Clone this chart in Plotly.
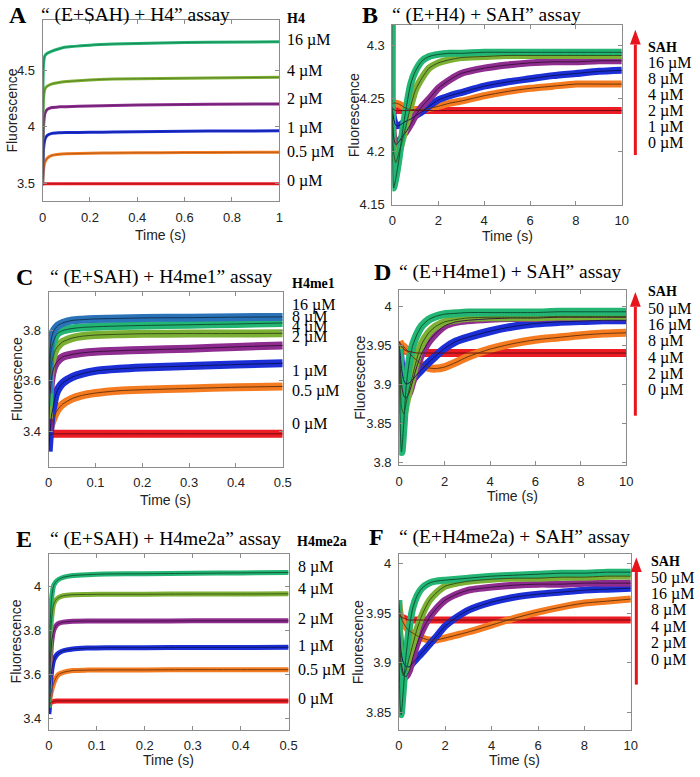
import plotly.graph_objects as go

W, H = 700, 777

# ---------------- data ----------------
# Panel A  "(E+SAH) + H4"   time in s
tA = [0, 0.004, 0.01, 0.02, 0.04, 0.07, 0.1, 0.2, 0.3, 0.5, 0.7, 1.0]
A_16 = [3.50, 4.55, 4.63, 4.65, 4.67, 4.69, 4.705, 4.722, 4.732, 4.742, 4.748, 4.752]
A_4 = [3.50, 4.25, 4.335, 4.36, 4.38, 4.393, 4.40, 4.415, 4.422, 4.428, 4.433, 4.438]
A_2 = [3.50, 4.00, 4.12, 4.155, 4.172, 4.177, 4.179, 4.184, 4.19, 4.196, 4.20, 4.203]
A_1 = [3.50, 3.80, 3.89, 3.925, 3.943, 3.948, 3.95, 3.952, 3.955, 3.96, 3.963, 3.965]
A_05 = [3.50, 3.62, 3.69, 3.724, 3.748, 3.758, 3.762, 3.767, 3.77, 3.772, 3.774, 3.776]
A_0 = [3.49, 3.495, 3.497, 3.498, 3.498, 3.497, 3.498, 3.497, 3.497, 3.497, 3.497, 3.497]
A_labels = ["16 µM", "4 µM", "2 µM", "1 µM", "0.5 µM", "0 µM"]

# Panel B  "(E+H4) + SAH"
tB = [0, 0.05, 0.15, 0.3, 0.45, 0.6, 0.8, 1.0, 1.3, 1.6, 2.0, 2.5, 3, 4, 5, 6, 7, 8, 9, 10]
B_16 = [4.32, 4.166, 4.175, 4.195, 4.22, 4.241, 4.264, 4.276, 4.286, 4.29, 4.292, 4.293, 4.293, 4.294, 4.294, 4.294, 4.294, 4.294, 4.294, 4.294]
B_8 = [4.24, 4.20, 4.19, 4.20, 4.212, 4.225, 4.243, 4.258, 4.27, 4.279, 4.284, 4.287, 4.289, 4.29, 4.291, 4.291, 4.291, 4.291, 4.291, 4.291]
B_4 = [4.235, 4.215, 4.207, 4.21, 4.215, 4.219, 4.226, 4.234, 4.243, 4.25, 4.26, 4.268, 4.274, 4.279, 4.282, 4.284, 4.285, 4.285, 4.286, 4.286]
B_2 = [4.24, 4.232, 4.225, 4.225, 4.227, 4.229, 4.231, 4.234, 4.238, 4.243, 4.249, 4.253, 4.256, 4.262, 4.266, 4.269, 4.272, 4.274, 4.276, 4.277]
B_1 = [4.245, 4.246, 4.246, 4.245, 4.243, 4.241, 4.24, 4.24, 4.24, 4.241, 4.243, 4.246, 4.248, 4.253, 4.257, 4.26, 4.262, 4.264, 4.264, 4.264]
B_0 = [4.242, 4.24, 4.239, 4.239, 4.239, 4.239, 4.239, 4.239, 4.239, 4.239, 4.239, 4.239, 4.239, 4.239, 4.239, 4.239, 4.239, 4.239, 4.239, 4.239]
B_labels = ["16 µM", "8 µM", "4 µM", "2 µM", "1 µM", "0 µM"]

# Panel C  "(E+SAH) + H4me1"
tC = [0, 0.003, 0.006, 0.01, 0.015, 0.02, 0.03, 0.05, 0.07, 0.1, 0.15, 0.2, 0.3, 0.4, 0.5]
C_16 = [3.55, 3.72, 3.77, 3.795, 3.81, 3.82, 3.83, 3.84, 3.843, 3.846, 3.848, 3.85, 3.851, 3.853, 3.854]
C_8 = [3.50, 3.68, 3.73, 3.755, 3.778, 3.79, 3.80, 3.808, 3.812, 3.815, 3.818, 3.82, 3.823, 3.826, 3.83]
C_4 = [3.45, 3.62, 3.67, 3.70, 3.725, 3.738, 3.755, 3.77, 3.777, 3.782, 3.785, 3.787, 3.788, 3.788, 3.789]
C_2 = [3.40, 3.55, 3.61, 3.646, 3.668, 3.68, 3.695, 3.705, 3.711, 3.716, 3.72, 3.723, 3.728, 3.735, 3.741]
C_1 = [3.32, 3.40, 3.46, 3.50, 3.545, 3.567, 3.592, 3.615, 3.628, 3.64, 3.648, 3.653, 3.659, 3.665, 3.67]
C_05 = [3.383, 3.41, 3.43, 3.45, 3.472, 3.488, 3.508, 3.53, 3.542, 3.552, 3.561, 3.565, 3.57, 3.575, 3.578]
C_0 = [3.38, 3.385, 3.388, 3.39, 3.39, 3.39, 3.39, 3.39, 3.39, 3.39, 3.39, 3.39, 3.39, 3.39, 3.39]
C_labels = ["16 µM", "8 µM", "4 µM", "2 µM", "1 µM", "0.5 µM", "0 µM"]

# Panel D  "(E+H4me1) + SAH"
tD = [0, 0.05, 0.1, 0.2, 0.3, 0.45, 0.6, 0.8, 1.0, 1.3, 1.6, 2.0, 2.5, 3, 4, 5, 6, 7, 8, 9, 10]
D_50 = [3.945, 3.84, 3.813, 3.85, 3.895, 3.93, 3.95, 3.965, 3.975, 3.983, 3.987, 3.99, 3.991, 3.992, 3.992, 3.992, 3.992, 3.993, 3.993, 3.993, 3.993]
D_16 = [3.95, 3.90, 3.87, 3.862, 3.875, 3.895, 3.912, 3.935, 3.952, 3.966, 3.974, 3.98, 3.983, 3.985, 3.986, 3.986, 3.986, 3.987, 3.987, 3.987, 3.987]
D_8 = [3.95, 3.92, 3.90, 3.885, 3.882, 3.89, 3.905, 3.925, 3.94, 3.955, 3.965, 3.975, 3.98, 3.982, 3.984, 3.985, 3.985, 3.986, 3.986, 3.986, 3.986]
D_4 = [3.95, 3.935, 3.92, 3.905, 3.90, 3.902, 3.906, 3.913, 3.919, 3.928, 3.936, 3.946, 3.955, 3.96, 3.968, 3.974, 3.978, 3.98, 3.981, 3.982, 3.982]
D_2 = [3.955, 3.952, 3.95, 3.948, 3.945, 3.94, 3.935, 3.93, 3.925, 3.921, 3.92, 3.922, 3.928, 3.935, 3.945, 3.952, 3.957, 3.96, 3.963, 3.965, 3.966]
D_0 = [3.955, 3.95, 3.948, 3.945, 3.943, 3.942, 3.941, 3.94, 3.94, 3.94, 3.94, 3.94, 3.94, 3.94, 3.94, 3.94, 3.94, 3.94, 3.94, 3.94, 3.94]
D_labels = ["50 µM", "16 µM", "8 µM", "4 µM", "2 µM", "0 µM"]

# Panel E  "(E+SAH) + H4me2a"
tE = [0, 0.003, 0.006, 0.01, 0.015, 0.02, 0.03, 0.05, 0.08, 0.12, 0.2, 0.3, 0.4, 0.5]
E_8 = [3.45, 3.85, 3.95, 4.005, 4.022, 4.032, 4.042, 4.05, 4.054, 4.057, 4.058, 4.06, 4.062, 4.064]
E_4 = [3.45, 3.75, 3.86, 3.92, 3.94, 3.95, 3.958, 3.963, 3.964, 3.965, 3.965, 3.966, 3.966, 3.967]
E_2 = [3.45, 3.65, 3.75, 3.80, 3.822, 3.832, 3.838, 3.842, 3.843, 3.843, 3.843, 3.844, 3.844, 3.844]
E_1 = [3.42, 3.55, 3.62, 3.665, 3.685, 3.697, 3.708, 3.716, 3.72, 3.722, 3.722, 3.723, 3.723, 3.724]
E_05 = [3.45, 3.50, 3.53, 3.56, 3.585, 3.60, 3.61, 3.618, 3.62, 3.621, 3.621, 3.622, 3.622, 3.622]
E_0 = [3.43, 3.47, 3.475, 3.478, 3.48, 3.48, 3.48, 3.48, 3.48, 3.48, 3.48, 3.48, 3.48, 3.48]
E_labels = ["8 µM", "4 µM", "2 µM", "1 µM", "0.5 µM", "0 µM"]

# Panel F  "(E+H4me2a) + SAH"
tF = [0, 0.05, 0.1, 0.2, 0.3, 0.45, 0.6, 0.8, 1.0, 1.3, 1.6, 2.0, 2.5, 3, 4, 5, 6, 7, 8, 9, 10]
F_50 = [3.963, 3.86, 3.848, 3.875, 3.905, 3.935, 3.955, 3.968, 3.975, 3.98, 3.982, 3.983, 3.984, 3.985, 3.987, 3.988, 3.989, 3.99, 3.99, 3.991, 3.991]
F_16 = [3.955, 3.91, 3.895, 3.887, 3.892, 3.905, 3.918, 3.935, 3.948, 3.962, 3.97, 3.977, 3.98, 3.982, 3.984, 3.985, 3.985, 3.986, 3.986, 3.987, 3.987]
F_8 = [3.95, 3.915, 3.90, 3.889, 3.886, 3.892, 3.905, 3.92, 3.932, 3.945, 3.954, 3.963, 3.969, 3.973, 3.976, 3.978, 3.979, 3.979, 3.98, 3.98, 3.98]
F_4 = [3.945, 3.925, 3.91, 3.90, 3.897, 3.896, 3.90, 3.905, 3.91, 3.918, 3.926, 3.937, 3.946, 3.953, 3.961, 3.966, 3.969, 3.971, 3.973, 3.974, 3.975]
F_2 = [3.96, 3.95, 3.945, 3.94, 3.936, 3.932, 3.93, 3.927, 3.925, 3.923, 3.923, 3.925, 3.928, 3.931, 3.938, 3.945, 3.951, 3.956, 3.96, 3.962, 3.964]
F_0 = [3.95, 3.948, 3.946, 3.945, 3.944, 3.943, 3.943, 3.943, 3.943, 3.943, 3.943, 3.943, 3.943, 3.943, 3.943, 3.943, 3.943, 3.943, 3.943, 3.943, 3.943]
F_labels = ["50 µM", "16 µM", "8 µM", "4 µM", "2 µM", "0 µM"]

# ---------------- styling ----------------
RED = "#ec1c24"
ORANGE = "#f47b20"
BLUE = "#1c2fd6"
PURPLE = "#8e2c90"
OLIVE = "#7cb034"
GREEN = "#22b573"
STEEL = "#2b73b8"
SIX = [GREEN, OLIVE, PURPLE, BLUE, ORANGE, RED]
SEVEN = [STEEL, GREEN, OLIVE, PURPLE, BLUE, ORANGE, RED]

SERIF = "Liberation Serif, Times New Roman, serif"
SANS = "Liberation Sans, Arial, sans-serif"
AXC = "#8c8c8c"


def dark(hexc, f=0.5):
    r, g, b = int(hexc[1:3], 16), int(hexc[3:5], 16), int(hexc[5:7], 16)
    return "#%02x%02x%02x" % (int(r * f), int(g * f), int(b * f))


def px(x):
    return x / W


def py(y):
    return 1 - y / H


panels = [
    dict(t=tA, ys=[A_16, A_4, A_2, A_1, A_05, A_0], cols=SIX, bw=3, fitf=0.75,
         dx=(39.3, 280.5), dy=(20.7, 203), xr=[0, 1], yr=[3.346, 4.94],
         xt=[0, 0.2, 0.4, 0.6, 0.8, 1], yt=[3.5, 4, 4.5],
         letter="A", lx=3, ly=15, title="\u201c (E+SAH) + H4\u201d assay", tx=36, ty=15,
         head="H4", hx=286.7, hy=18.3, labels=A_labels, labx=286.7,
         laby=[40, 71.7, 100, 129, 154, 183.3], xty=237, ytx=8, arrow=None),
    dict(t=tB, ys=[B_16, B_8, B_4, B_2, B_1, B_0], cols=SIX, bw=7, fitf=0.45,
         dx=(395.7, 629.5), dy=(25, 207), xr=[0, 10], yr=[4.15, 4.32],
         xt=[0, 2, 4, 6, 8, 10], yt=[4.15, 4.2, 4.25, 4.3],
         letter="B", lx=363, ly=15, title="\u201c (E+H4) + SAH\u201d assay", tx=393, ty=15,
         head="SAH", hx=654, hy=48.3, labels=B_labels, labx=654,
         laby=[63.3, 79.6, 95.9, 112.2, 128.5, 144.8], xty=238, ytx=356,
         arrow=(643.3, 30, 45, 156.7)),
    dict(t=tC, ys=[C_16, C_8, C_4, C_2, C_1, C_05, C_0], cols=SEVEN, bw=8, fitf=0.45,
         dx=(45.5, 284), dy=(295, 471.7), xr=[0, 0.5], yr=[3.259, 3.953],
         xt=[0, 0.1, 0.2, 0.3, 0.4, 0.5], yt=[3.4, 3.6, 3.8],
         letter="C", lx=10, ly=280, title="\u201c (E+SAH) + H4me1\u201d assay", tx=45, ty=280,
         head="H4me1", hx=291.7, hy=286.7, labels=C_labels, labx=291.7,
         laby=[308.3, 320.7, 330.5, 340.5, 375, 395, 428.3], xty=505, ytx=14, arrow=None),
    dict(t=tD, ys=[D_50, D_16, D_8, D_4, D_2, D_0], cols=SIX, bw=8, fitf=0.45,
         dx=(402.7, 634), dy=(293, 470), xr=[0, 10], yr=[3.796, 4.021],
         xt=[0, 2, 4, 6, 8, 10], yt=[3.8, 3.85, 3.9, 3.95, 4],
         letter="D", lx=375, ly=275, title="\u201c (E+H4me1) + SAH\u201d assay", tx=400, ty=275,
         head="SAH", hx=654, hy=295, labels=D_labels, labx=654,
         laby=[312, 328.5, 345, 361.5, 378, 394.5], xty=501, ytx=362,
         arrow=(643.3, 295, 310, 420)),
    dict(t=tE, ys=[E_8, E_4, E_2, E_1, E_05, E_0], cols=SIX, bw=5, fitf=0.5,
         dx=(45.7, 290), dy=(559.3, 737.3), xr=[0, 0.5], yr=[3.349, 4.15],
         xt=[0, 0.1, 0.2, 0.3, 0.4, 0.5], yt=[3.4, 3.6, 3.8, 4],
         letter="E", lx=10, ly=545, title="\u201c (E+SAH) + H4me2a\u201d assay", tx=45, ty=545,
         head="H4me2a", hx=297, hy=547, labels=E_labels, labx=297.7,
         laby=[573.3, 595.3, 625, 652.7, 676.7, 706.7], xty=768, ytx=12, arrow=None),
    dict(t=tF, ys=[F_50, F_16, F_8, F_4, F_2, F_0], cols=SIX, bw=7, fitf=0.45,
         dx=(402.3, 638.7), dy=(560, 737.3), xr=[0, 10], yr=[3.833, 4.009],
         xt=[0, 2, 4, 6, 8, 10], yt=[3.85, 3.9, 3.95, 4],
         letter="F", lx=370, ly=543, title="\u201c (E+H4me2a) + SAH\u201d assay", tx=400, ty=543,
         head="SAH", hx=656.7, hy=567.7, labels=F_labels, labx=656.7,
         laby=[584, 600, 616, 633.3, 650, 666.7], xty=768, ytx=361,
         arrow=(644.3, 563.3, 578, 691.7)),
]

fig = go.Figure()
layout = dict(width=W, height=H, margin=dict(l=0, r=0, t=0, b=0),
              paper_bgcolor="white", plot_bgcolor="white", showlegend=False)
annotations = []
shapes = []

for i, p in enumerate(panels):
    n = i + 1
    xa = "x" if n == 1 else "x%d" % n
    ya = "y" if n == 1 else "y%d" % n
    order = list(range(len(p["ys"])))[::-1]
    for k in order:
        fig.add_trace(go.Scatter(x=p["t"], y=p["ys"][k], mode="lines", xaxis=xa, yaxis=ya,
                                 line=dict(color=p["cols"][k], width=p["bw"], shape="spline", smoothing=0.6),
                                 hoverinfo="skip"))
    for k in order:
        fig.add_trace(go.Scatter(x=p["t"], y=p["ys"][k], mode="lines", xaxis=xa, yaxis=ya,
                                 line=dict(color=dark(p["cols"][k], p["fitf"]), width=1,
                                           shape="spline", smoothing=0.6),
                                 hoverinfo="skip"))
    axcommon = dict(showgrid=False, zeroline=False, showline=True, linecolor=AXC, linewidth=1,
                    mirror="ticks", ticks="inside", ticklen=4, tickcolor=AXC,
                    tickfont=dict(family=SANS, size=13, color="#222222"))
    layout["xaxis" if n == 1 else "xaxis%d" % n] = dict(
        domain=[px(p["dx"][0]), px(p["dx"][1])], range=p["xr"], anchor=ya,
        tickvals=p["xt"], ticklabelstandoff=4, **axcommon)
    layout["yaxis" if n == 1 else "yaxis%d" % n] = dict(
        domain=[py(p["dy"][1]), py(p["dy"][0])], range=p["yr"], anchor=xa,
        tickvals=p["yt"], ticklabelstandoff=4, **axcommon)

    annotations.append(dict(text="<b>%s</b>" % p["letter"], x=px(p["lx"]), y=py(p["ly"]),
                            xref="paper", yref="paper", xanchor="left", yanchor="middle",
                            showarrow=False, font=dict(family=SERIF, size=24, color="black")))
    annotations.append(dict(text=p["title"], x=px(p["tx"]), y=py(p["ty"]),
                            xref="paper", yref="paper", xanchor="left", yanchor="middle",
                            showarrow=False, font=dict(family=SERIF, size=19.5, color="black")))
    annotations.append(dict(text="<b>%s</b>" % p["head"], x=px(p["hx"]), y=py(p["hy"]),
                            xref="paper", yref="paper", xanchor="left", yanchor="middle",
                            showarrow=False, font=dict(family=SERIF, size=14, color="black")))
    for lab, yy in zip(p["labels"], p["laby"]):
        annotations.append(dict(text=lab, x=px(p["labx"]), y=py(yy),
                                xref="paper", yref="paper", xanchor="left", yanchor="middle",
                                showarrow=False, font=dict(family=SERIF, size=16, color="black")))
    cx = (p["dx"][0] + p["dx"][1]) / 2
    cy = (p["dy"][0] + p["dy"][1]) / 2
    annotations.append(dict(text="Time (s)", x=px(cx), y=py(p["xty"]), xref="paper", yref="paper",
                            xanchor="center", yanchor="middle", showarrow=False,
                            font=dict(family=SANS, size=14, color="#222222")))
    annotations.append(dict(text="Fluorescence", x=px(p["ytx"]), y=py(cy), xref="paper", yref="paper",
                            xanchor="center", yanchor="middle", showarrow=False, textangle=-90,
                            font=dict(family=SANS, size=14, color="#222222")))
    if p["arrow"]:
        ax_, tip, base, bot = p["arrow"]
        shapes.append(dict(type="line", xref="paper", yref="paper", x0=px(ax_), x1=px(ax_),
                           y0=py(bot), y1=py(base), line=dict(color="#e8141c", width=3)))
        shapes.append(dict(type="path", xref="paper", yref="paper",
                           path="M %f %f L %f %f L %f %f Z" % (px(ax_ - 5.5), py(base), px(ax_ + 5.5), py(base),
                                                                px(ax_), py(tip)),
                           fillcolor="#e8141c", line=dict(color="#e8141c", width=0)))

layout["annotations"] = annotations
layout["shapes"] = shapes
fig.update_layout(**layout)
fig.write_html("out.html", config={"displayModeBar": False},
               post_script="document.body.style.margin='0';")
